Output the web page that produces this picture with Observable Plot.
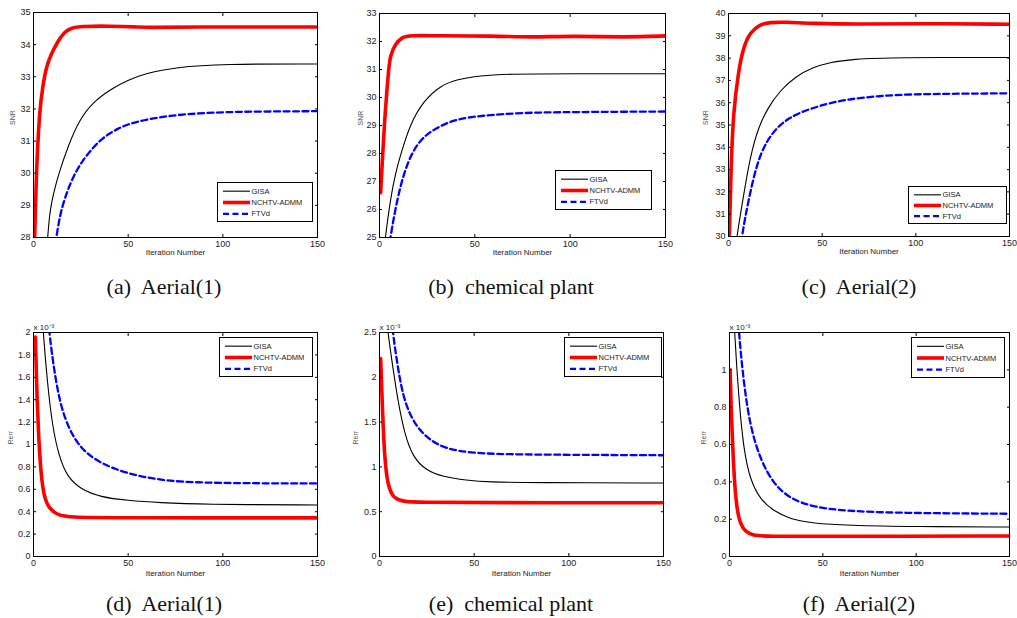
<!DOCTYPE html>
<html><head><meta charset="utf-8">
<script src="https://cdn.jsdelivr.net/npm/d3@7"></script>
<script src="https://cdn.jsdelivr.net/npm/@observablehq/plot@0.6"></script>
<style>
body{margin:0;background:#fff;}
#root{position:relative;width:1017px;height:618px;overflow:hidden;background:#fff;font-family:"Liberation Sans",Arial,sans-serif;}
.panel{position:absolute;}
.cap{position:absolute;font-family:"Liberation Serif","Times New Roman",serif;font-size:22px;line-height:22px;white-space:pre;transform:translateX(-50%);color:#111;}
.leg{position:absolute;}
</style></head>
<body><div id="root"></div>
<script>
// ---------------- DATA ----------------
const seriesNames = ["GISA", "NCHTV-ADMM", "FTVd"];
const xTicks = [0, 50, 100, 150];
const captions = ["(a)  Aerial(1)", "(b)  chemical plant", "(c)  Aerial(2)", "(d)  Aerial(1)", "(e)  chemical plant", "(f)  Aerial(2)"];
const yLabels = ["SNR", "SNR", "SNR", "Rerr", "Rerr", "Rerr"];
const yDomains = [[28, 35], [25, 33], [30, 40], [0, 2], [0, 2.5], [0, 1.2]];
const yTicksA = [28, 29, 30, 31, 32, 33, 34, 35];
const yTicksB = [25, 26, 27, 28, 29, 30, 31, 32, 33];
const yTicksC = [30, 31, 32, 33, 34, 35, 36, 37, 38, 39, 40];
const yTicksD = [0, 0.2, 0.4, 0.6, 0.8, 1, 1.2, 1.4, 1.6, 1.8, 2];
const yTicksE = [0, 0.5, 1, 1.5, 2, 2.5];
const yTicksF = [0, 0.2, 0.4, 0.6, 0.8, 1];

// [iteration, value]
const gisaA = [[6.5,27.3],[7.5,28.0],[8.3,28.6],[9.5,29.1],[12,29.7],[14,30.1],[18,30.8],[24,31.65],[32,32.25],[42,32.65],[50,32.9],[59,33.1],[75,33.3],[100,33.4],[150,33.4]];
const nchtvA = [[0.3,27.2],[1,29],[1.8,30.4],[3.2,31.95],[4.9,32.7],[6.7,33.3],[9.3,33.7],[12.8,34.1],[16.4,34.4],[20,34.52],[25,34.57],[40,34.58],[55,34.55],[60,34.53],[80,34.55],[150,34.55]];
const ftvdA = [[11,27.5],[12,28],[14,28.7],[16.4,29.2],[20.8,29.9],[27,30.5],[35.7,31.08],[44.6,31.4],[53.4,31.6],[71,31.8],[97,31.9],[120,31.92],[150,31.93]];

const gisaB = [[2.5,24.5],[3,25],[5.6,26.3],[8.2,27.26],[11.7,28.1],[16.1,29.05],[23.1,29.88],[31.9,30.42],[40.6,30.65],[52.9,30.78],[66.9,30.84],[100,30.85],[150,30.85]];
const nchtvB = [[0.6,26.6],[1.6,27.9],[3,29.5],[4.7,30.95],[5.6,31.5],[8.2,31.9],[11.7,32.15],[16,32.22],[30,32.2],[60,32.2],[80,32.15],[100,32.2],[130,32.15],[150,32.2]];
const ftvdB = [[5,24.5],[5.6,25],[9.1,26.3],[12.6,27.26],[17,28.04],[23.1,28.63],[31.9,28.99],[40.6,29.23],[52.9,29.35],[75.6,29.46],[100,29.48],[150,29.5]];

const gisaC = [[4,29.5],[4.4,30],[7.9,31.76],[11.5,33.55],[15.9,34.9],[21.2,35.79],[27.4,36.54],[36.2,37.2],[45,37.58],[53.8,37.8],[66.2,37.96],[89,38.03],[150,38.03]];
const nchtvC = [[0.3,29.5],[0.6,30.5],[1.4,33.2],[2.6,35.6],[5.3,37.4],[7.9,38.48],[11.5,39.15],[16.8,39.52],[22,39.6],[30,39.62],[45,39.55],[70,39.52],[100,39.55],[150,39.52]];
const ftvdC = [[6.5,29.3],[7,30],[10.6,31.6],[15,33.25],[20.3,34.3],[27.4,35.04],[36.2,35.5],[48.5,35.87],[62.6,36.15],[80.3,36.3],[98,36.39],[150,36.42]];

const gisaD = [[4.6,2.2],[5.1,2.0],[7.4,1.54],[10,1.16],[13.5,0.89],[17.9,0.71],[24.9,0.6],[35.4,0.53],[49.5,0.5],[67,0.48],[88,0.465],[150,0.46]];
const nchtvD = [[1,1.96],[1.6,1.55],[2.6,1.1],[3.9,0.74],[5.6,0.53],[8.2,0.43],[12.6,0.37],[19.6,0.35],[40,0.345],[150,0.345]];
const ftvdD = [[7.5,2.2],[8.2,2.0],[12.6,1.45],[17.9,1.16],[24.9,0.96],[35.4,0.83],[49.5,0.74],[67,0.68],[88,0.655],[150,0.652]];

const gisaE = [[4,2.65],[4.4,2.5],[7,2.12],[9.7,1.74],[13.2,1.37],[17.6,1.11],[24.6,0.96],[33.5,0.89],[45.8,0.85],[58.1,0.83],[80,0.825],[150,0.82]];
const nchtvE = [[0.6,2.21],[1.4,1.74],[2.3,1.26],[3.5,0.92],[5.3,0.74],[7.9,0.645],[12.3,0.615],[20,0.605],[60,0.6],[150,0.6]];
const ftvdE = [[6.5,2.65],[7,2.5],[10.6,1.97],[14.1,1.67],[19.4,1.45],[26.4,1.3],[35.2,1.2],[49.3,1.155],[66.9,1.14],[100,1.135],[150,1.13]];

const gisaF = [[2.4,1.3],[2.7,1.2],[5,0.84],[7.6,0.57],[11.1,0.41],[16.5,0.305],[23.5,0.245],[32.4,0.2],[44.8,0.178],[62.4,0.167],[100,0.16],[150,0.158]];
const nchtvF = [[0.3,1.0],[0.9,0.785],[1.8,0.57],[2.8,0.373],[4.1,0.247],[5.8,0.176],[8.5,0.131],[12.9,0.113],[18.2,0.108],[60,0.108],[150,0.11]];
const ftvdF = [[4.6,1.3],[5,1.2],[7.6,0.93],[11.1,0.695],[16.5,0.52],[23.5,0.39],[32.4,0.31],[44.8,0.265],[62.4,0.244],[89,0.233],[150,0.229]];

const panelSeries = [
  [gisaA, nchtvA, ftvdA], [gisaB, nchtvB, ftvdB], [gisaC, nchtvC, ftvdC],
  [gisaD, nchtvD, ftvdD], [gisaE, nchtvE, ftvdE], [gisaF, nchtvF, ftvdF]
];
const panelYTicks = [yTicksA, yTicksB, yTicksC, yTicksD, yTicksE, yTicksF];

// ---------------- STYLE / LAYOUT ----------------
const seriesStyle = [
  {stroke: "#000000", strokeWidth: 1.1, dash: null},
  {stroke: "#ff0000", strokeWidth: 3.6, dash: null},
  {stroke: "#0000ff", strokeWidth: 2.3, dash: "6,3.5"}
];
// div left, top, width, height, margins [t,r,b,l], ylabel dx, legend box [l,t,w,h], caption [cx, top]
const layout = [
  {left:0,   top:0,   w:340, h:260, m:[12,23,23,33], ydx:-21, leg:[217,182,96,40], cap:[164,276]},
  {left:340, top:0,   w:340, h:260, m:[13,15,23,39], ydx:-19, leg:[555,170,97,40], cap:[511,276]},
  {left:680, top:0,   w:337, h:260, m:[13,8,24,48],  ydx:-23, leg:[908,186,99,38], cap:[859,276]},
  {left:0,   top:320, w:340, h:260, m:[12,23,24,33], ydx:-23, leg:[219,337,94,40], cap:[164,593]},
  {left:340, top:320, w:340, h:260, m:[12,17,24,39], ydx:-24, leg:[564,337,98,40], cap:[511,593]},
  {left:680, top:320, w:337, h:260, m:[12,8,24,49],  ydx:-26, leg:[911,337,94,41], cap:[859,593]}
];

const root = document.getElementById("root");
const fmt = d3.format("~g");

panelSeries.forEach((series, i) => {
  const L = layout[i];
  const bottomRow = i >= 3;
  const marks = [];
  series.forEach((pts, s) => {
    const st = seriesStyle[s];
    marks.push(Plot.line(pts, {
      x: d => d[0], y: d => d[1], stroke: st.stroke, strokeWidth: st.strokeWidth,
      strokeDasharray: st.dash, curve: "basis", clip: true, strokeLinejoin: "round"
    }));
  });
  marks.push(Plot.frame({stroke: "#000", strokeWidth: 1}));
  marks.push(Plot.axisX({ticks: xTicks, tickSize: -3, tickPadding: 6, label: null, fontSize: 9, tickFormat: fmt, fill: "#222"}));
  marks.push(Plot.axisX({anchor: "top", ticks: xTicks, tickSize: -3, tickFormat: () => "", label: null}));
  marks.push(Plot.axisY({ticks: panelYTicks[i], tickSize: -3, tickPadding: 6, label: null, fontSize: 9, tickFormat: fmt, fill: "#222"}));
  marks.push(Plot.axisY({anchor: "right", ticks: panelYTicks[i], tickSize: -3, tickFormat: () => "", label: null}));
  marks.push(Plot.text(["Iteration Number"], {text: d => d, frameAnchor: "bottom", dy: bottomRow ? 19 : 17.5, fontSize: 8, fill: "#222"}));
  marks.push(Plot.text([yLabels[i]], {text: d => d, frameAnchor: "left", rotate: -90, dx: L.ydx, fontSize: 7, fill: "#555"}));
  if (bottomRow) {
    marks.push(Plot.text(["x 10\u207B\u00B3"], {text: d => d, frameAnchor: "top-left", textAnchor: "start", lineAnchor: "bottom", dy: -3, fontSize: 8, fill: "#222"}));
  }
  const chart = Plot.plot({
    width: L.w, height: L.h,
    marginTop: L.m[0], marginRight: L.m[1], marginBottom: L.m[2], marginLeft: L.m[3],
    style: {fontFamily: "'Liberation Sans', Arial, sans-serif", background: "transparent", overflow: "visible"},
    x: {domain: [0, 150]},
    y: {domain: yDomains[i]},
    marks
  });
  const div = document.createElement("div");
  div.className = "panel";
  div.style.left = L.left + "px";
  div.style.top = L.top + "px";
  div.appendChild(chart);
  root.appendChild(div);

  // legend box
  const [lx, ly, lw, lh] = L.leg;
  const svg = d3.create("svg").attr("class", "leg").attr("width", lw).attr("height", lh)
    .style("left", lx + "px").style("top", ly + "px").style("position", "absolute");
  svg.append("rect").attr("x", 0.5).attr("y", 0.5).attr("width", lw - 1).attr("height", lh - 1)
    .attr("fill", "#fff").attr("stroke", "#000").attr("stroke-width", 1);
  const rowH = (lh - 6) / 3;
  seriesNames.forEach((name, s) => {
    const st = seriesStyle[s];
    const yy = 3 + rowH * (s + 0.5) + 0.5;
    svg.append("line").attr("x1", 6).attr("x2", 33).attr("y1", yy).attr("y2", yy)
      .attr("stroke", st.stroke).attr("stroke-width", st.strokeWidth).attr("stroke-dasharray", st.dash);
    svg.append("text").attr("x", 34.5).attr("y", yy).attr("dy", "0.35em")
      .attr("font-size", 7.5).attr("font-family", "'Liberation Sans', Arial, sans-serif").attr("fill", "#222").text(name);
  });
  root.appendChild(svg.node());

  // caption
  const cap = document.createElement("div");
  cap.className = "cap";
  cap.style.left = L.cap[0] + "px";
  cap.style.top = L.cap[1] + "px";
  cap.textContent = captions[i];
  root.appendChild(cap);
});
</script>
</body></html>
